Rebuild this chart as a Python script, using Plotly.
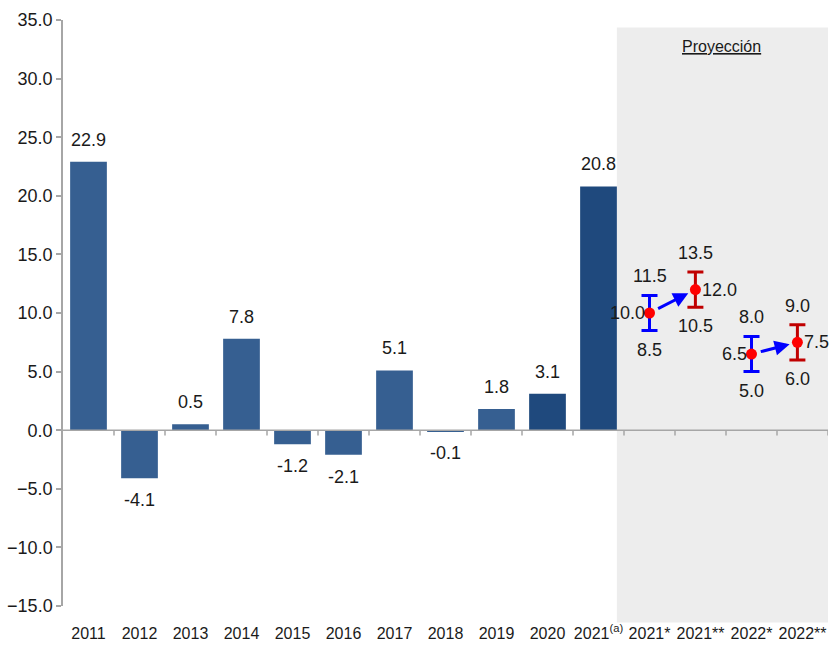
import plotly.graph_objects as go

# ---- data ----
categories = ["2011", "2012", "2013", "2014", "2015", "2016", "2017", "2018",
              "2019", "2020", "2021<sup>(a)</sup>", "2021*", "2021**", "2022*", "2022**"]
bar_values = [22.9, -4.1, 0.5, 7.8, -1.2, -2.1, 5.1, -0.1, 1.8, 3.1, 20.8]
bar_colors = ["#365F91"] * 9 + ["#1F497D", "#1F497D"]

proj_idx = [11, 12, 13, 14]
proj_mid = [10.0, 12.0, 6.5, 7.5]
proj_low = [8.5, 10.5, 5.0, 6.0]
proj_high = [11.5, 13.5, 8.0, 9.0]
proj_colors = ["#0000FF", "#C00000", "#0000FF", "#C00000"]
proj_side = ["left", "right", "left", "right"]

y_ticks = [35, 30, 25, 20, 15, 10, 5, 0, -5, -10, -15]

FONT = "Liberation Sans, Arial, sans-serif"
TXT = "#1a1a1a"
AX = "#A6A6A6"
FS = 18
RED_DODGE = -0.1  # the "**" estimates sit slightly left of their category centre

fig = go.Figure()

bar_x = list(range(len(bar_values)))
fig.add_trace(go.Bar(x=bar_x, y=bar_values, marker=dict(color=bar_colors, line=dict(width=0)),
                     width=0.72, showlegend=False, hoverinfo="y"))

proj_x = [proj_idx[i] + (RED_DODGE if proj_side[i] == "right" else 0.0) for i in range(len(proj_idx))]

# projection error bars
for i in range(len(proj_idx)):
    fig.add_trace(go.Scatter(
        x=[proj_x[i]], y=[proj_mid[i]], mode="markers",
        marker=dict(color="#FF0000", size=11),
        error_y=dict(type="data", symmetric=False,
                     array=[proj_high[i] - proj_mid[i]],
                     arrayminus=[proj_mid[i] - proj_low[i]],
                     color=proj_colors[i], thickness=3, width=8),
        showlegend=False))

shapes = []
# shaded projection region
shapes.append(dict(type="rect", xref="x", yref="paper", x0=10.36, x1=14.5, y0=-0.028, y1=0.987,
                   fillcolor="#EDEDED", line=dict(width=0), layer="below"))
# zero axis line
shapes.append(dict(type="line", xref="paper", yref="y", x0=0, x1=1, y0=0, y1=0,
                   line=dict(color=AX, width=1.5), layer="above"))
for k in range(len(categories)):
    shapes.append(dict(type="line", xref="x", yref="y", x0=k + 0.5, x1=k + 0.5, y0=0, y1=-0.45,
                       line=dict(color=AX, width=1.5)))

annotations = []
for i, v in enumerate(bar_values):
    annotations.append(dict(x=i, y=v, xref="x", yref="y", text=f"{v:.1f}", showarrow=False,
                            yanchor="bottom" if v >= 0 else "top",
                            yshift=10 if v >= 0 else -10,
                            font=dict(size=FS, color=TXT, family=FONT)))

for i in range(len(proj_idx)):
    x = proj_x[i]
    annotations.append(dict(x=x, y=proj_high[i], text=f"{proj_high[i]:.1f}", showarrow=False,
                            yanchor="bottom", yshift=7, font=dict(size=FS, color=TXT, family=FONT)))
    annotations.append(dict(x=x, y=proj_low[i], text=f"{proj_low[i]:.1f}", showarrow=False,
                            yanchor="top", yshift=-7, font=dict(size=FS, color=TXT, family=FONT)))
    if proj_side[i] == "left":
        annotations.append(dict(x=x, y=proj_mid[i], text=f"{proj_mid[i]:.1f}", showarrow=False,
                                xanchor="right", xshift=-3, font=dict(size=FS, color=TXT, family=FONT)))
    else:
        annotations.append(dict(x=x, y=proj_mid[i], text=f"{proj_mid[i]:.1f}", showarrow=False,
                                xanchor="left", xshift=5, font=dict(size=FS, color=TXT, family=FONT)))

# arrows from blue to red
for a, b in [(0, 1), (2, 3)]:
    annotations.append(dict(x=proj_x[b], y=proj_mid[b], ax=proj_x[a], ay=proj_mid[a],
                            xref="x", yref="y", axref="x", ayref="y", text="",
                            showarrow=True, arrowhead=2, arrowsize=1.0, arrowwidth=3,
                            arrowcolor="#0000FF", standoff=8, startstandoff=8))

annotations.append(dict(x=12.42, y=0.954, xref="x", yref="paper", text="<u>Proyección</u>",
                        yanchor="middle", showarrow=False,
                        font=dict(size=16, color=TXT, family=FONT)))

fig.update_layout(
    width=829, height=645,
    margin=dict(l=63, r=1, t=20, b=39),
    paper_bgcolor="white", plot_bgcolor="rgba(0,0,0,0)",
    font=dict(family=FONT, color=TXT),
    shapes=shapes, annotations=annotations,
    xaxis=dict(range=[-0.5, 14.5], tickvals=list(range(len(categories))), ticktext=categories,
               showgrid=False, zeroline=False, showline=False, automargin=False, tickangle=0,
               ticks="outside", ticklen=13, tickcolor="rgba(0,0,0,0)",
               tickfont=dict(size=16, color=TXT, family=FONT)),
    yaxis=dict(range=[-15, 35], tickvals=y_ticks, tickformat=".1f", automargin=False,
               showgrid=False, zeroline=False, showline=True, linecolor=AX, linewidth=1.5,
               ticks="outside", ticklen=5, tickcolor=AX, tickwidth=1.5,
               tickfont=dict(size=FS, color=TXT, family=FONT)),
)

# remove the browser's default page margin so the 829x645 figure fills the window exactly
fig.write_html("out.html", config={"displayModeBar": False},
               post_script="document.body.style.margin='0';document.body.style.overflow='hidden';")
